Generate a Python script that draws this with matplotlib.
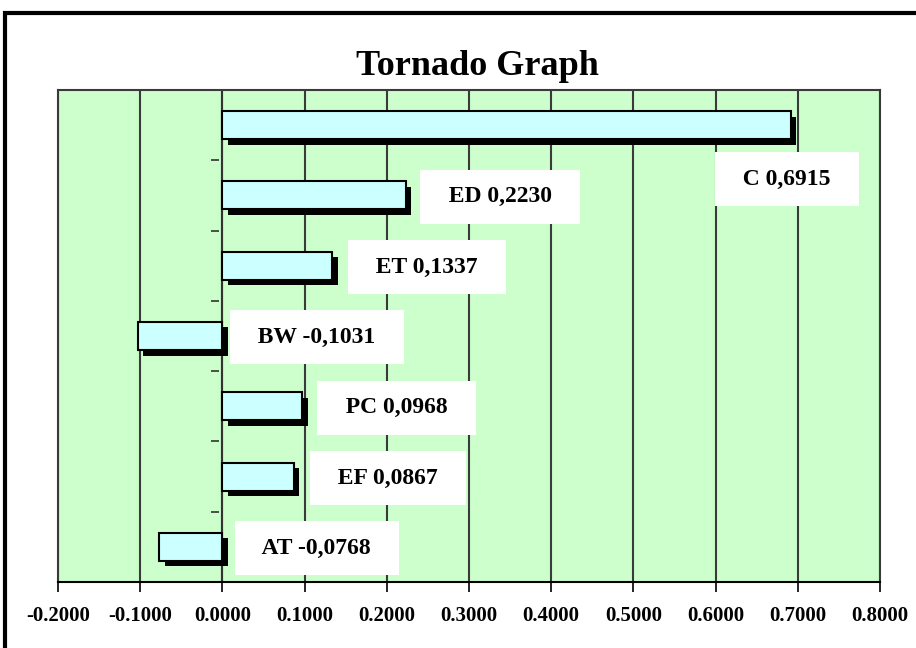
import numpy as np
import matplotlib.pyplot as plt
import matplotlib.patheffects as pe
from matplotlib.patches import Rectangle

names = ['C', 'ED', 'ET', 'BW', 'PC', 'EF', 'AT']
values = [0.6915, 0.2230, 0.1337, -0.1031, 0.0968, 0.0867, -0.0768]
xticks = np.arange(-0.2, 0.8001, 0.1)

plt.rcParams['font.family'] = ['Liberation Serif', 'DejaVu Serif']

fig = plt.figure(figsize=(9.16, 6.48), dpi=100)
fig.patch.set_facecolor('white')

# outer frame (right and bottom run off the picture)
fig.add_artist(Rectangle((5 / 916, -0.05), 1.2, (648 - 13) / 648 + 0.05,
                         transform=fig.transFigure, fill=False,
                         edgecolor='black', linewidth=3))

ax = fig.add_axes([58 / 916, 66 / 648, 822 / 916, 492 / 648])
ax.set_facecolor('#ccffcc')

y = np.arange(len(names))[::-1]
bars = ax.barh(y, values, height=0.4, color='#ccffff', edgecolor='black',
               linewidth=1.5, zorder=3)
for b in bars:
    b.set_path_effects([pe.SimplePatchShadow(offset=(4, -4), shadow_rgbFace='black', alpha=1),
                        pe.Normal()])

for yi, n, v in zip(y, names, values):
    txt = '  ' + n + ' ' + ('%.4f' % v).replace('.', ',') + '  '
    xl = max(v, 0) + 0.115
    yl = yi
    if xl > 0.75:
        xl = v - 0.005
        yl = yi - 0.75
    ax.text(xl, yl - 0.02, txt, ha='center', va='center', fontsize=17,
            fontweight='bold', zorder=4,
            bbox=dict(boxstyle='square,pad=0.7', facecolor='white', edgecolor='none'))

ax.set_xlim(-0.2, 0.8)
ax.set_ylim(-0.5, len(names) - 0.5)
ax.set_xticks(xticks)
ax.set_xticklabels(['%.4f' % t if abs(t) > 1e-9 else '0.0000' for t in xticks],
                   fontsize=15, fontweight='bold')
ax.tick_params(axis='x', length=7, width=1.2, direction='out', pad=10)
ax.grid(axis='x', color='#3a3a3a', linewidth=1.5, zorder=1)

# category axis at zero with ticks between categories
ax.set_yticks([])
bounds = np.arange(0.5, len(names) - 1, 1.0)
ax.plot(np.zeros_like(bounds) - 0.004, bounds, marker=0, markersize=6,
        linestyle='none', color='#333333', markeredgewidth=1.2, zorder=2)
ax.axvline(0, color='#333333', linewidth=1.5, zorder=2)

for s in ['top', 'right', 'left']:
    ax.spines[s].set_color('#3a3a3a')
    ax.spines[s].set_linewidth(1.5)
ax.spines['bottom'].set_color('black')
ax.spines['bottom'].set_linewidth(1.5)

fig.text(477 / 916, 1 - 75 / 648, 'Tornado Graph', ha='center', va='baseline',
         fontsize=26, fontweight='bold')

plt.savefig('out.png', dpi=100)
